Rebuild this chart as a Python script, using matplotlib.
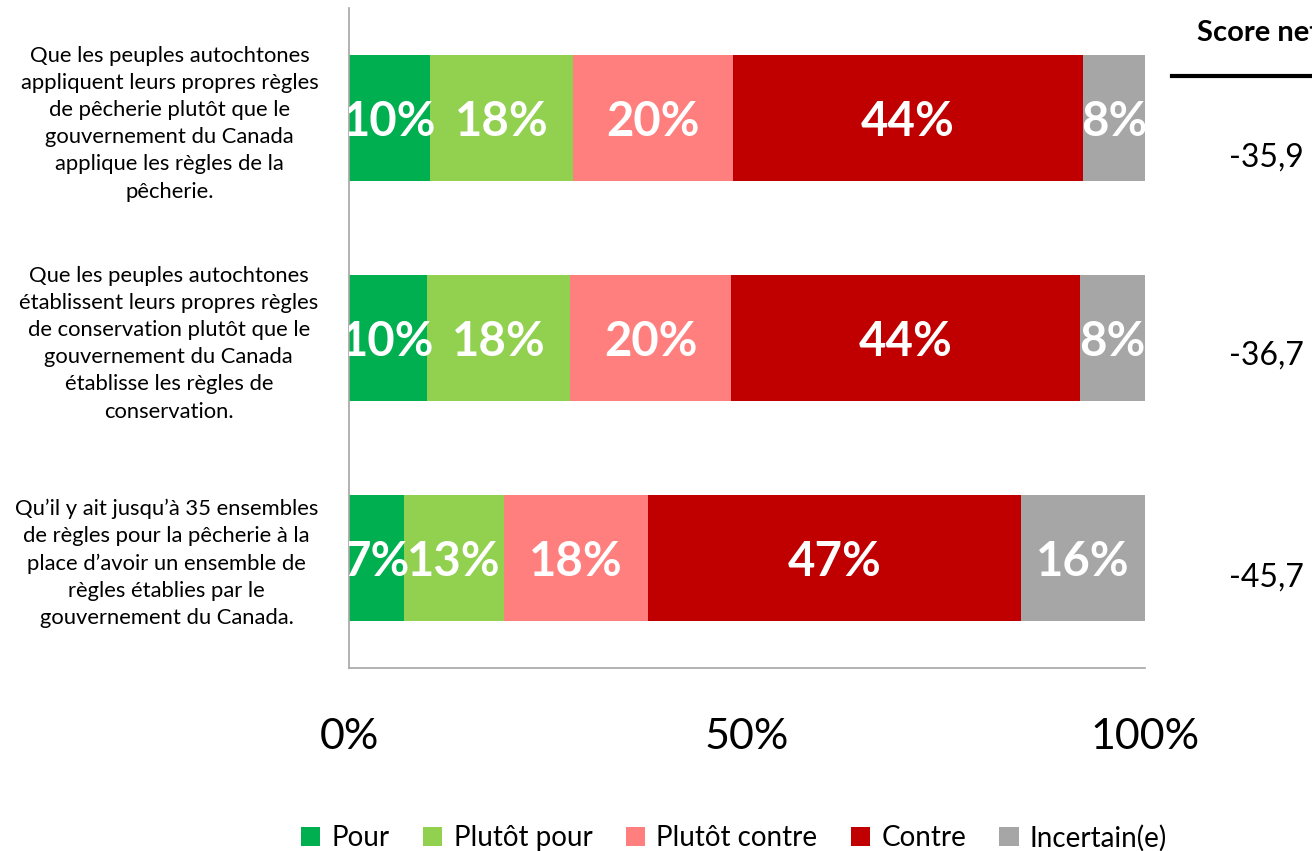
import numpy as np
import matplotlib
matplotlib.use("Agg")
import matplotlib.pyplot as plt
from matplotlib.lines import Line2D
from matplotlib.transforms import blended_transform_factory

plt.rcParams['font.family'] = ['Lato', 'DejaVu Sans']

# ---------------------------
# Data
# ---------------------------

questions = [
    "Que les peuples autochtones\nappliquent leurs propres règles\nde pêcherie plutôt que le\n"
    "gouvernement du Canada\napplique les règles de la\npêcherie.",
    "Que les peuples autochtones\nétablissent leurs propres règles\nde conservation plutôt que le\n"
    "gouvernement du Canada\nétablisse les règles de\nconservation.",
    "Qu’il y ait jusqu’à 35 ensembles\nde règles pour la pêcherie à la\nplace d’avoir un ensemble de\n"
    "règles établies par le\ngouvernement du Canada.",
]

categories = ["Pour", "Plutôt pour", "Plutôt contre", "Contre", "Incertain(e)"]

pour = [10.2, 9.8, 6.9]
plutot_pour = [18.0, 18.0, 12.6]
plutot_contre = [20.1, 20.2, 18.1]
contre = [43.9, 43.8, 46.8]
incertain = [7.8, 8.2, 15.6]

score_net = ["-35,9", "-36,7", "-45,7"]

x_ticks = [0, 50, 100]
x_tick_labels = ["0%", "50%", "100%"]

colors = ["#00B050", "#92D050", "#FF7F7F", "#C00000", "#A6A6A6"]

# vertical nudge of score values (layout only)
score_offsets = [0.18, 0.08, 0.09]

# ---------------------------
# Plot
# ---------------------------

fig = plt.figure(figsize=(13.12, 8.51), dpi=100)
ax = fig.add_axes([0.266, 0.215, 0.6067, 0.7755])

series = [pour, plutot_pour, plutot_contre, contre, incertain]
y = np.arange(len(questions))
left = np.zeros(len(questions))

for vals, name, col in zip(series, categories, colors):
    vals = np.array(vals)
    ax.barh(y, vals, left=left, height=0.573, color=col, label=name)
    for yi, l, v in zip(y, left, vals):
        ax.text(l + v / 2, yi + 0.02, f"{round(v)}%", ha="center", va="center",
                color="white", fontsize=34, fontweight="bold", clip_on=True)
    left += vals

ax.set_xlim(0, 100)
ax.set_ylim(2.5, -0.5)

ax.set_yticks(y)
ax.set_yticklabels(questions, fontsize=15.8, linespacing=1.45,
                   multialignment="center")
ax.set_xticks(x_ticks)
ax.set_xticklabels(x_tick_labels, fontsize=31)
ax.tick_params(axis="both", length=0)
ax.tick_params(axis="y", pad=22)
ax.tick_params(axis="x", pad=36)

for s in ["top", "right"]:
    ax.spines[s].set_visible(False)
for s in ["left", "bottom"]:
    ax.spines[s].set_color("#A6A6A6")
    ax.spines[s].set_linewidth(1.2)

# score net column
fig.text(1197 / 1312, 1 - 33 / 851, "Score net", fontsize=21, fontweight="bold",
         ha="left", va="center")
fig.add_artist(Line2D([1172 / 1312, 1.0], [1 - 76 / 851, 1 - 76 / 851],
                      color="black", linewidth=3, transform=fig.transFigure))
trans = blended_transform_factory(fig.transFigure, ax.transData)
for yi, s, off in zip(y, score_net, score_offsets):
    ax.text(1229 / 1312, yi + off, s, transform=trans, fontsize=23,
            ha="left", va="center", clip_on=False)

fig.legend(loc="center", bbox_to_anchor=(0.5595, 1 - 838 / 851), ncol=5,
           frameon=False, fontsize=20, handlelength=0.7, handleheight=0.7,
           handletextpad=0.4, columnspacing=1.2)

fig.savefig("out.png", dpi=100)
